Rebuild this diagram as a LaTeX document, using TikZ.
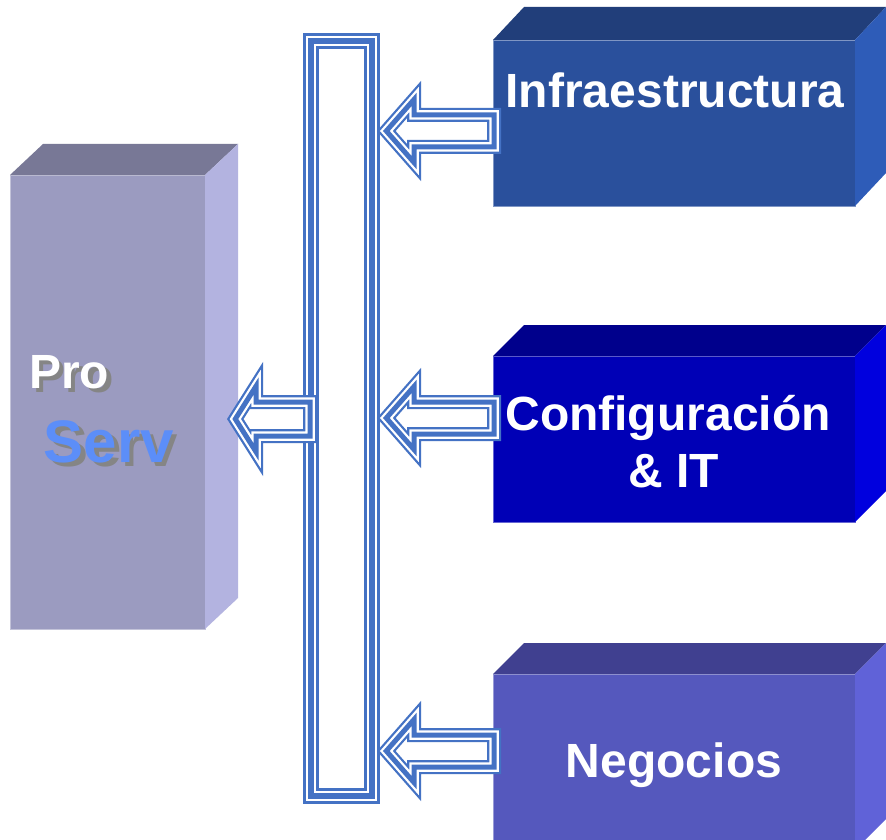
\documentclass[tikz,border=0pt]{standalone}
\usepackage{fontspec}
\setmainfont{Liberation Sans}
\definecolor{arrowblue}{HTML}{4472C4}
\definecolor{psFront}{HTML}{9B9BC0}
\definecolor{psTop}{HTML}{787896}
\definecolor{psSide}{HTML}{B3B3E0}
\definecolor{inFront}{HTML}{2A509C}
\definecolor{inTop}{HTML}{213E7A}
\definecolor{inSide}{HTML}{2E5CB8}
\definecolor{cfFront}{HTML}{0000B6}
\definecolor{cfTop}{HTML}{00008C}
\definecolor{cfSide}{HTML}{0000DE}
\definecolor{ngFront}{HTML}{5558BD}
\definecolor{ngTop}{HTML}{404090}
\definecolor{ngSide}{HTML}{6062D8}
\definecolor{servBlue}{HTML}{5C8EF8}
\definecolor{shadowGray}{HTML}{858585}
\newcommand\shadowtext[2]{\makebox[0pt][l]{\hspace{4.5pt}\raisebox{-4.5pt}{\textcolor{shadowGray}{#2}}}\textcolor{#1}{#2}}
\tikzset{
  face/.style={inner sep=0pt, outer sep=0pt, draw=#1!60!white, line width=0.6pt},
  lbl/.style={text=white, font=\fontsize{48}{57}\selectfont\bfseries, inner sep=0pt, anchor=base},
  prostyle/.style={font=\fontsize{48}{57}\selectfont\bfseries, inner sep=0pt, anchor=base west},
  servstyle/.style={font=\fontsize{60}{70}\selectfont\bfseries, inner sep=0pt, anchor=base west},
  rarrow/.pic={
    \foreach \w/\c in {14/arrowblue,9.5/white,5/arrowblue}
      \draw[line width=\w pt, \c, line join=miter]
        (9.3,0) -- (37,-31.5) -- (37,-16) -- (117,-16) -- (117,16) -- (37,16) -- (37,31.5) -- cycle;
  },
  larrow/.pic={
    \foreach \w/\c in {14/arrowblue,9.5/white,5/arrowblue}
      \draw[line width=\w pt, \c, line join=miter]
        (8.3,0) -- (29,-32.8) -- (29,-17) -- (83,-17) -- (83,17) -- (29,17) -- (29,32.8) -- cycle;
  }
}
\begin{document}
\begin{tikzpicture}[x=1pt,y=-1pt]
\useasboundingbox (0,0) rectangle (886,840);
\clip (0,0) rectangle (886,840);
\fill[white] (0,0) rectangle (886,840);

% ProServ box
\node[face=psFront, fill=psFront, minimum width=195, minimum height=454] (proserv) at (107.5,402) {};
\fill[psTop] (proserv.north west) -- ++(33,-31) -- ([shift={(33,-31)}]proserv.north east) -- (proserv.north east) -- cycle;
\fill[psSide] (proserv.north east) -- ++(33,-31) -- ([shift={(33,-31)}]proserv.south east) -- (proserv.south east) -- cycle;

% Infraestructura box
\node[face=inFront, fill=inFront, minimum width=362, minimum height=166] (infra) at (674,123) {};
\fill[inTop] (infra.north west) -- ++(31,-33) -- ([shift={(31,-33)}]infra.north east) -- (infra.north east) -- cycle;
\fill[inSide] (infra.north east) -- ++(31,-33) -- ([shift={(31,-33)}]infra.south east) -- (infra.south east) -- cycle;

% Configuracion box
\node[face=cfFront, fill=cfFront, minimum width=362, minimum height=166] (config) at (674,439) {};
\fill[cfTop] (config.north west) -- ++(31,-31) -- ([shift={(31,-31)}]config.north east) -- (config.north east) -- cycle;
\fill[cfSide] (config.north east) -- ++(31,-31) -- ([shift={(31,-31)}]config.south east) -- (config.south east) -- cycle;

% Negocios box
\node[face=ngFront, fill=ngFront, minimum width=362, minimum height=176] (negocios) at (674,762) {};
\fill[ngTop] (negocios.north west) -- ++(31,-31) -- ([shift={(31,-31)}]negocios.north east) -- (negocios.north east) -- cycle;
\fill[ngSide] (negocios.north east) -- ++(31,-31) -- ([shift={(31,-31)}]negocios.south east) -- (negocios.south east) -- cycle;

% Bar
\node[inner sep=0pt, outer sep=0pt, minimum width=61, minimum height=755] (bar) at (341.5,418.5) {};
\foreach \w/\c in {16/arrowblue,10.5/white,5.5/arrowblue}
  \draw[line width=\w pt, \c, line join=miter] (bar.north west) rectangle (bar.south east);

% Arrows
\pic (arrInfra) at (377,131) {rarrow};
\pic (arrConfig) at (377,418) {rarrow};
\pic (arrNeg) at (377,751) {rarrow};
\pic (arrPro) at (227,419) {larrow};

% Texts
\node[lbl] (tInfra) at (675,108) {Infraestructura};
\node[lbl] (tConfigA) at (668,430) {Configuración};
\node[lbl] (tConfigB) at (674,487) {\& IT};
\node[lbl] (tNeg) at (674,777) {Negocios};

\node[prostyle] (tPro) at (29,388) {\shadowtext{white}{Pro}};
\node[servstyle] (tServ) at (43.5,462) {\shadowtext{servBlue}{Serv}};
\end{tikzpicture}
\end{document}
